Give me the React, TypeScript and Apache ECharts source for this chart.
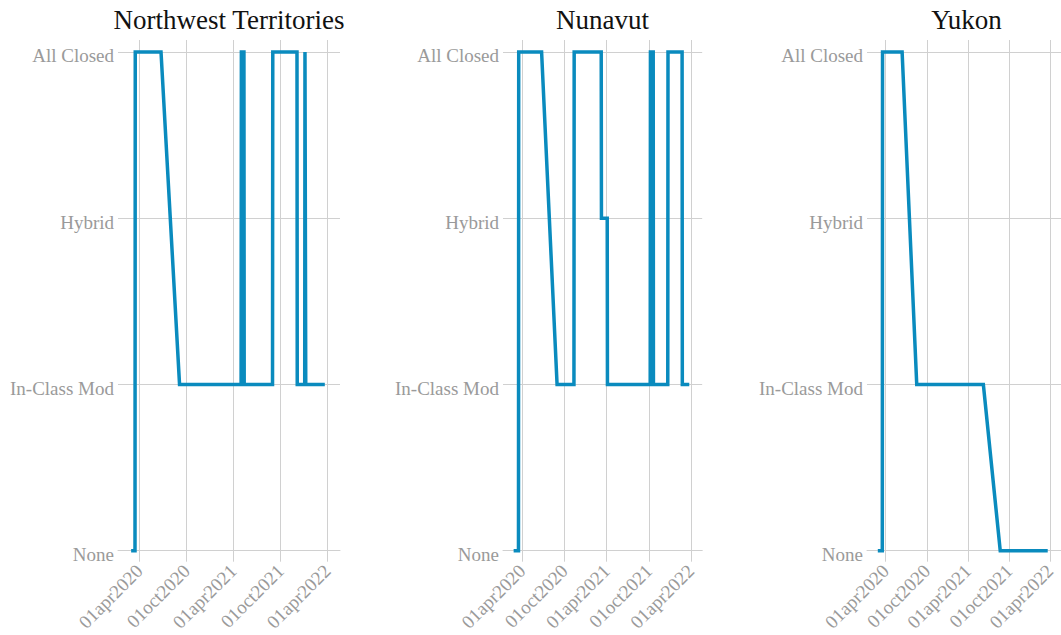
import React, { useEffect, useRef } from "react";
import * as echarts from "echarts";

const levelNames = ["None", "In-Class Mod", "Hybrid", "All Closed"];
const panelNames = ["Northwest Territories", "Nunavut", "Yukon"];
const tickDates = ["2020-04-01", "2020-10-01", "2021-04-01", "2021-10-01", "2022-04-01"];
const tickLabels = ["01apr2020", "01oct2020", "01apr2021", "01oct2021", "01apr2022"];
const axisMinDate = "2020-01-09";
const axisMaxDate = "2022-05-20";

const nwtDates = ["2020-02-29", "2020-03-15", "2020-03-16", "2020-06-24", "2020-09-04", "2021-05-01", "2021-05-02", "2021-05-12", "2021-05-13", "2021-08-31", "2021-09-01", "2021-12-04", "2021-12-05", "2022-01-03", "2022-01-04", "2022-01-06", "2022-01-07", "2022-03-22"];
const nwtStatus = ["None", "None", "All Closed", "All Closed", "In-Class Mod", "In-Class Mod", "All Closed", "All Closed", "In-Class Mod", "In-Class Mod", "All Closed", "All Closed", "In-Class Mod", "In-Class Mod", "All Closed", "All Closed", "In-Class Mod", "In-Class Mod"];

const nunDates = ["2020-02-24", "2020-03-16", "2020-03-17", "2020-06-24", "2020-08-30", "2020-11-11", "2020-11-12", "2021-03-09", "2021-03-10", "2021-04-04", "2021-04-05", "2021-10-07", "2021-10-08", "2021-10-20", "2021-10-21", "2021-12-22", "2021-12-23", "2022-02-22", "2022-02-23", "2022-03-25"];
const nunStatus = ["None", "None", "All Closed", "All Closed", "In-Class Mod", "In-Class Mod", "All Closed", "All Closed", "Hybrid", "Hybrid", "In-Class Mod", "In-Class Mod", "All Closed", "All Closed", "In-Class Mod", "In-Class Mod", "All Closed", "All Closed", "In-Class Mod", "In-Class Mod"];

const yukDates = ["2020-02-26", "2020-03-17", "2020-03-18", "2020-06-13", "2020-08-17", "2021-06-09", "2021-08-23", "2022-03-22"];
const yukStatus = ["None", "None", "All Closed", "All Closed", "In-Class Mod", "In-Class Mod", "None", "None"];

const toMs = (s: string) => {
  const [y, m, d] = s.split("-").map(Number);
  return Date.UTC(y, m - 1, d);
};

const FONT = "Liberation Serif";
const LINE_COLOR = "#0a8bbe";
const GRID_COLOR = "#d0d0d0";
const TEXT_COLOR = "#9a9a9a";

export default function App() {
  const ref = useRef<HTMLDivElement>(null);
  useEffect(() => {
    if (!ref.current) return;
    const chart = echarts.init(ref.current, null, { renderer: "svg" });
    const panels = [
      { dates: nwtDates, status: nwtStatus },
      { dates: nunDates, status: nunStatus },
      { dates: yukDates, status: yukStatus },
    ];
    const grids = [
      { left: 118, top: 40, width: 222, height: 510.7 },
      { left: 503, top: 40, width: 199.2, height: 510.7 },
      { left: 867, top: 40, width: 199.2, height: 510.7 },
    ];
    const tickMs = tickDates.map(toMs);
    const labelMap: Record<number, string> = {};
    tickMs.forEach((t, i) => (labelMap[t] = tickLabels[i]));

    const option: any = {
      animation: false,
      title: panelNames.map((name, i) => ({
        text: name,
        left: grids[i].left + grids[i].width / 2,
        top: 6,
        padding: 0,
        textAlign: "center",
        textStyle: { fontFamily: FONT, fontSize: 27, fontWeight: "normal", color: "#111" },
      })),
      grid: grids.map((g) => ({ ...g, containLabel: false })),
      xAxis: grids.map((_, i) => ({
        type: "value",
        gridIndex: i,
        min: toMs(axisMinDate),
        max: toMs(axisMaxDate),
        axisLine: { show: true, lineStyle: { color: GRID_COLOR, width: 1 } },
        axisTick: { show: true, length: 11, customValues: tickMs, lineStyle: { color: GRID_COLOR, width: 1 } },
        axisLabel: {
          customValues: tickMs,
          rotate: 45,
          margin: 17,
          fontFamily: FONT,
          fontSize: 19,
          color: TEXT_COLOR,
          formatter: (v: number) => labelMap[v] || "",
        },
        splitLine: { show: true, lineStyle: { color: GRID_COLOR, width: 1 } },
      })),
      yAxis: grids.map((_, i) => ({
        type: "value",
        gridIndex: i,
        min: 0,
        max: 3.072,
        interval: 1,
        axisLine: { show: false },
        axisTick: { show: false },
        axisLabel: {
          margin: 4,
          verticalAlign: "top",
          lineHeight: 8,
          fontFamily: FONT,
          fontSize: 19,
          color: TEXT_COLOR,
          formatter: (v: number) => (Number.isInteger(v) ? levelNames[v] : ""),
        },
        splitLine: { show: true, showMaxLine: false, lineStyle: { color: GRID_COLOR, width: 1 } },
      })),
      series: panels.map((p, i) => ({
        type: "line",
        xAxisIndex: i,
        yAxisIndex: i,
        showSymbol: false,
        symbol: "none",
        clip: false,
        lineStyle: { color: LINE_COLOR, width: 3.5, join: "miter" },
        itemStyle: { color: LINE_COLOR },
        data: p.dates.map((d, j) => [toMs(d), levelNames.indexOf(p.status[j])]),
      })),
    };
    chart.setOption(option);
    return () => chart.dispose();
  }, []);
  return (
    <div
      ref={ref}
      style={{ position: "fixed", left: 0, top: 0, width: 1061, height: 635, background: "#fff" }}
    />
  );
}
